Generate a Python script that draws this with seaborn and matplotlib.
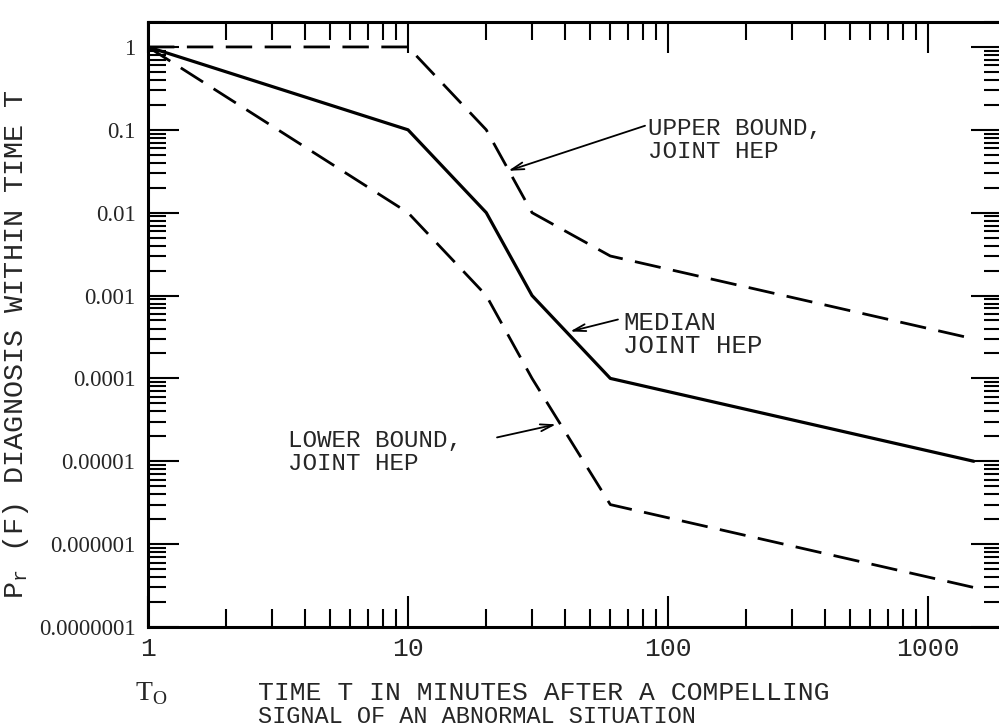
import numpy as np
import pandas as pd
import matplotlib
matplotlib.use("Agg")
import matplotlib.pyplot as plt
from matplotlib.ticker import LogLocator, NullFormatter
import seaborn as sns

# ---- data ----
time_min = [1, 10, 20, 30, 60, 1500]
median_hep = [1.0, 0.1, 0.01, 0.001, 1e-4, 1e-5]
upper_hep = [1.0, 1.0, 0.1, 0.01, 3e-3, 3e-4]
lower_hep = [1.0, 0.01, 0.001, 1e-4, 3e-6, 3e-7]

x_ticks = [1, 10, 100, 1000]
x_tick_labels = ["1", "10", "100", "1000"]
y_ticks = [1e-7, 1e-6, 1e-5, 1e-4, 1e-3, 1e-2, 1e-1, 1]
y_tick_labels = ["0.0000001", "0.000001", "0.00001", "0.0001", "0.001",
                 "0.01", "0.1", "1"]

df = pd.DataFrame({
    "T": time_min * 3,
    "HEP": median_hep + upper_hep + lower_hep,
    "series": ["median"] * 6 + ["upper"] * 6 + ["lower"] * 6,
})

sns.set_style("white")
plt.rcParams["font.family"] = ["Liberation Serif", "DejaVu Serif"]
plt.rcParams["mathtext.fontset"] = "custom"

W, H = 999, 727
fig = plt.figure(figsize=(W / 100, H / 100), dpi=100)
ax_left, ax_right, ax_top, ax_bottom = 148, 1002, 22, 627
ax = fig.add_axes([ax_left / W, 1 - ax_bottom / H,
                   (ax_right - ax_left) / W, (ax_bottom - ax_top) / H])

dash = (0, (9.5, 4.5))
sns.lineplot(data=df[df.series == "median"], x="T", y="HEP", ax=ax,
             color="black", lw=2.3, estimator=None, sort=False)
sns.lineplot(data=df[df.series == "upper"], x="T", y="HEP", ax=ax,
             color="black", lw=2.0, linestyle=dash, estimator=None, sort=False)
sns.lineplot(data=df[df.series == "lower"], x="T", y="HEP", ax=ax,
             color="black", lw=2.0, linestyle=dash, estimator=None, sort=False)

ax.set_xscale("log")
ax.set_yscale("log")
ax.set_xlim(1, 1926)
ax.set_ylim(1e-7, 2.0)

ax.set_xticks(x_ticks, labels=x_tick_labels)
ax.set_yticks(y_ticks, labels=y_tick_labels)
ax.xaxis.set_minor_locator(LogLocator(base=10, subs=np.arange(2, 10), numticks=20))
ax.yaxis.set_minor_locator(LogLocator(base=10, subs=np.arange(2, 10), numticks=20))
ax.xaxis.set_minor_formatter(NullFormatter())
ax.yaxis.set_minor_formatter(NullFormatter())

ax.tick_params(which="both", direction="in", top=True, right=True,
               bottom=True, left=True, color="black", width=1.5)
ax.tick_params(which="major", length=22)
ax.tick_params(which="minor", length=13)
ax.tick_params(axis="x", which="major", pad=7, labelsize=19,
               labelfontfamily="Liberation Mono")
ax.tick_params(axis="y", which="major", pad=9, labelsize=16.5,
               labelfontfamily="Liberation Serif")
for s in ax.spines.values():
    s.set_linewidth(2.2)
    s.set_color("black")
ax.set_xlabel("")
ax.set_ylabel("")

mono = "Liberation Mono"
arrow_kw = dict(arrowstyle="->,head_length=0.9,head_width=0.25",
                color="black", lw=1.3, shrinkA=0, shrinkB=0)

# annotations
ax.text(83.8, 0.1435, "UPPER BOUND,\nJOINT HEP", family=mono, fontsize=17.5,
        ha="left", va="top", linespacing=1.0)
ax.annotate("", xy=(24.3, 0.032), xytext=(81.6, 0.112), arrowprops=arrow_kw)

ax.text(67.1, 6.59e-4, "MEDIAN\nJOINT HEP", family=mono, fontsize=18.5,
        ha="left", va="top", linespacing=0.95)
ax.annotate("", xy=(42.0, 3.68e-4), xytext=(64.2, 5.14e-4), arrowprops=arrow_kw)

ax.text(3.45, 2.43e-5, "LOWER BOUND,\nJOINT HEP", family=mono, fontsize=17.5,
        ha="left", va="top", linespacing=1.0)
ax.annotate("", xy=(37.1, 2.79e-5), xytext=(22.0, 1.94e-5), arrowprops=arrow_kw)

# axis titles
fig.text(16 / W, 1 - 344 / H, r"P$_\mathregular{r}$ (F) DIAGNOSIS WITHIN TIME T",
         family=mono, fontsize=20.5, rotation=90, ha="center", va="center")
fig.text(135 / W, 1 - 680 / H, r"T$_\mathregular{O}$", fontsize=20,
         ha="left", va="top")
fig.text(258 / W, 1 - 681 / H, "TIME T IN MINUTES AFTER A COMPELLING",
         family=mono, fontsize=19, ha="left", va="top")
fig.text(258 / W, 1 - 705 / H, "SIGNAL OF AN ABNORMAL SITUATION",
         family=mono, fontsize=17, ha="left", va="top")

fig.savefig("out.png", dpi=100, facecolor="white")
